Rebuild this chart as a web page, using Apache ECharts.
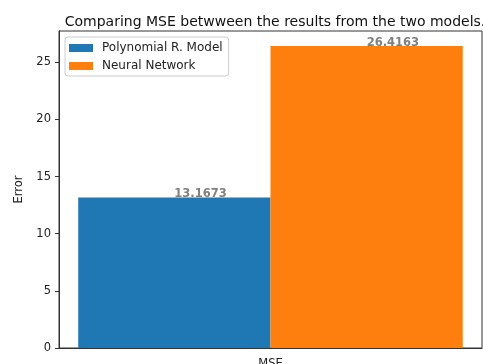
<!DOCTYPE html>
<html>
<head>
<meta charset="utf-8">
<script src="https://cdn.jsdelivr.net/npm/echarts@6/dist/echarts.min.js"></script>
<style>
  html, body { margin: 0; padding: 0; background: #fff; }
  #chart { width: 483px; height: 364px; }
</style>
</head>
<body>
<div id="chart"></div>
<script>
// Mean squared error of the two models
const categories = ['MSE'];
const polyValues = [13.1673];
const nnValues = [26.4163];
const seriesNames = ['Polynomial R. Model', 'Neural Network'];
const yTicks = [0, 5, 10, 15, 20, 25];

const FONT = 'DejaVu Sans';
// headroom of 5% above the tallest bar
const yMax = Math.max(...polyValues, ...nnValues) * 1.05;

function valueLabel() {
  return {
    show: true,
    position: ['50%', 0],
    align: 'left',
    verticalAlign: 'bottom',
    offset: [0, 3],
    color: '#808080',
    fontWeight: 'bold',
    fontSize: 11.5,
    fontFamily: FONT,
    formatter: p => p.value.toFixed(4)
  };
}

const chart = echarts.init(document.getElementById('chart'), null, { renderer: 'canvas' });
chart.setOption({
  animation: false,
  textStyle: { fontFamily: FONT },
  title: {
    text: 'Comparing MSE betwween the results from the two models.',
    left: 270,
    textAlign: 'center',
    top: 10,
    textStyle: { fontSize: 14, fontWeight: 'normal', color: '#111', fontFamily: FONT }
  },
  legend: {
    orient: 'vertical',
    left: 65,
    top: 37,
    itemWidth: 24,
    itemHeight: 8,
    itemGap: 6,
    padding: [5, 6, 4, 4],
    borderColor: '#cccccc',
    borderWidth: 1,
    borderRadius: 3,
    backgroundColor: 'rgba(255,255,255,0.8)',
    icon: 'rect',
    textStyle: { fontSize: 12, color: '#222', fontFamily: FONT, padding: [0, 0, 0, 4] },
    data: seriesNames
  },
  grid: {
    left: 59, right: 1, top: 31, bottom: 16,
    outerBoundsMode: 'none',
    containLabel: false,
    show: true, borderColor: '#333', borderWidth: 1, backgroundColor: '#fff'
  },
  xAxis: {
    type: 'category',
    data: categories,
    axisLine: { lineStyle: { color: '#333' } },
    axisTick: { alignWithLabel: true, length: 4, lineStyle: { color: '#333' } },
    axisLabel: { color: '#222', fontSize: 11.5, margin: 10, fontFamily: FONT }
  },
  yAxis: {
    type: 'value',
    min: 0,
    max: yMax,
    interval: 5,
    name: 'Error',
    nameLocation: 'middle',
    nameGap: 28,
    nameTextStyle: { fontSize: 11.5, color: '#222', fontFamily: FONT },
    axisLine: { show: true, lineStyle: { color: '#333' } },
    axisTick: { show: true, length: 4, customValues: yTicks, lineStyle: { color: '#333' } },
    axisLabel: { color: '#222', fontSize: 11.5, margin: 8, customValues: yTicks, fontFamily: FONT },
    splitLine: { show: false }
  },
  series: [
    {
      name: seriesNames[0],
      type: 'bar',
      data: polyValues,
      barGap: '0%',
      barCategoryGap: '9.09%',
      itemStyle: { color: '#1f77b4' },
      label: valueLabel()
    },
    {
      name: seriesNames[1],
      type: 'bar',
      data: nnValues,
      barGap: '0%',
      barCategoryGap: '9.09%',
      itemStyle: { color: '#ff7f0e' },
      label: valueLabel()
    }
  ]
});
</script>
</body>
</html>
